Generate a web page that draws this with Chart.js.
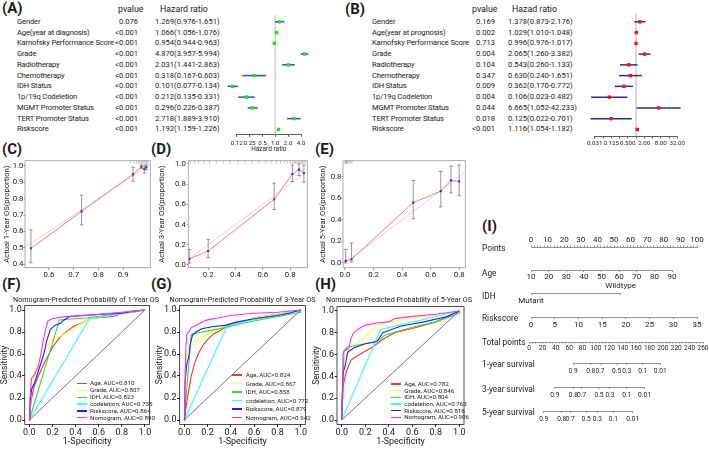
<!DOCTYPE html>
<html>
<head>
<meta charset="utf-8">
<title>Cox regression, calibration, ROC and nomogram</title>
<script src="https://cdn.jsdelivr.net/npm/chart.js@4.4.1/dist/chart.umd.min.js"></script>
<style>
  body { margin: 0; background: #fff; }
  #page { position: relative; width: 709px; height: 450px; overflow: hidden; background: #fff;
          font-family: Roboto, "Open Sans", sans-serif; color: #1a1a1a; }
  #page canvas { position: absolute; }
  .t { position: absolute; white-space: nowrap; line-height: 1; }
  .key { position: absolute; width: 10px; height: 1.3px; }
</style>
</head>
<body>
<div id="page"></div>
<script>
const FONT = 'Roboto, "Open Sans", sans-serif';

// ---- (A) univariate Cox
const uniVars = ['Gender', 'Age(year at diagnosis)', 'Karnofsky Performance Score', 'Grade', 'Radiotherapy', 'Chemotherapy',
  'IDH Status', '1p/19q Codeletion', 'MGMT Promoter Status', 'TERT Promoter Status', 'Riskscore'];
const uniP = ['0.076', '<0.001', '<0.001', '<0.001', '<0.001', '<0.001', '<0.001', '<0.001', '<0.001', '<0.001', '<0.001'];
const uniHR = [1.269, 1.066, 0.954, 4.870, 2.031, 0.318, 0.101, 0.212, 0.296, 2.718, 1.192];
const uniLow = [0.976, 1.056, 0.944, 3.957, 1.441, 0.167, 0.077, 0.135, 0.226, 1.889, 1.159];
const uniHigh = [1.651, 1.076, 0.963, 5.994, 2.863, 0.603, 0.134, 0.331, 0.387, 3.910, 1.226];

// ---- (B) multivariate Cox
const multiVars = ['Gender', 'Age(year at prognosis)', 'Karnofsky Performance Score', 'Grade', 'Radiotherapy', 'Chemotherapy',
  'IDH Status', '1p/19q Codeletion', 'MGMT Promoter Status', 'TERT Promoter Status', 'Riskscore'];
const multiP = ['0.169', '0.002', '0.713', '0.004', '0.104', '0.347', '0.009', '0.004', '0.044', '0.018', '<0.001'];
const multiHR = [1.378, 1.029, 0.996, 2.065, 0.543, 0.630, 0.362, 0.106, 6.665, 0.125, 1.116];
const multiLow = [0.873, 1.010, 0.976, 1.260, 0.260, 0.240, 0.170, 0.023, 1.052, 0.022, 1.054];
const multiHigh = [2.176, 1.048, 1.017, 3.382, 1.133, 1.651, 0.772, 0.482, 42.233, 0.701, 1.182];

const hrTicksA = [0.125, 0.25, 0.5, 1, 2, 4];
const hrLabelsA = ['0.12', '0.25', '0.5', '1.0', '2.0', '4.0'];
const hrTicksB = [0.03125, 0.0625, 0.125, 0.25, 0.5, 1, 2, 4, 8, 16, 32];
const hrLabelsB = ['0.031', '', '0.125', '', '0.500', '', '2.00', '', '8.00', '', '32.00'];

// ---- (C)(D)(E) calibration
const cal1Pred = [0.527, 0.732, 0.94, 0.974, 0.986, 0.994];
const cal1Obs = [0.498, 0.722, 0.947, 0.993, 0.978, 0.99];
const cal1Low = [0.41, 0.64, 0.905, 0.982, 0.955, 0.975];
const cal1High = [0.61, 0.82, 0.99, 1.005, 0.998, 1.005];
const cal1Rug = [0.93, 0.945, 0.955, 0.962, 0.968, 0.974, 0.98, 0.985, 0.99, 0.995, 1.0];
const cal1XTicks = [0.6, 0.7, 0.8, 0.9];
const cal1YTicks = [0.4, 0.5, 0.6, 0.7, 0.8, 0.9, 1.0];

const cal3Pred = [0.062, 0.2, 0.683, 0.816, 0.864, 0.9];
const cal3Obs = [0.06, 0.138, 0.65, 0.9, 0.944, 0.908];
const cal3Low = [0.017, 0.072, 0.55, 0.826, 0.885, 0.82];
const cal3High = [0.154, 0.253, 0.81, 0.99, 1.0, 0.99];
const cal3Rug = [0.07, 0.1, 0.13, 0.17, 0.21, 0.26, 0.31, 0.36, 0.42, 0.47, 0.52, 0.57, 0.62, 0.66, 0.7, 0.73,
  0.76, 0.78, 0.8, 0.82, 0.83, 0.84, 0.85, 0.86, 0.87, 0.88, 0.89, 0.9, 0.91];
const cal3XTicks = [0.2, 0.4, 0.6, 0.8];
const cal3YTicks = [0, 0.2, 0.4, 0.6, 0.8, 1.0];

const cal5Pred = [0.005, 0.046, 0.478, 0.671, 0.743, 0.8];
const cal5Obs = [0.018, 0.034, 0.56, 0.667, 0.767, 0.758];
const cal5Low = [0.0, 0.01, 0.41, 0.52, 0.65, 0.625];
const cal5High = [0.125, 0.185, 0.767, 0.85, 0.9, 0.91];
const cal5Rug = [0.0, 0.004, 0.008, 0.012, 0.016, 0.02, 0.03, 0.04, 0.05];
const cal5XTicks = [0, 0.2, 0.4, 0.6, 0.8];
const cal5YTicks = [0, 0.2, 0.4, 0.6, 0.8];

// ---- (F)(G)(H) ROC curves: Age, Grade, IDH, codeletion, Riskscore, Nomogram
const rocNames = ['Age', 'Grade', 'IDH', 'codeletion', 'Riskscore', 'Nomogram'];
const rocColors = ['#ff3030', '#ffff30', '#30e030', '#30ffff', '#2020ff', '#ff30ff'];
const auc1 = ['0.810', '0.807', '0.823', '0.735', '0.864', '0.890'];
const auc3 = ['0.824', '0.867', '0.858', '0.772', '0.879', '0.942'];
const auc5 = ['0.782', '0.846', '0.804', '0.763', '0.816', '0.906'];
const roc1 = [
  [[0,0],[0.01,0.12],[0.02,0.2],[0.04,0.3],[0.07,0.38],[0.1,0.45],[0.13,0.52],[0.16,0.58],[0.2,0.66],[0.24,0.72],[0.28,0.77],[0.33,0.81],[0.38,0.85],[0.45,0.88],[0.52,0.92],[0.6,0.93],[0.7,0.94],[0.76,0.95],[0.77,0.97],[0.9,0.98],[1,1]],
  [[0,0],[0.02,0.3],[0.06,0.5],[0.12,0.62],[0.18,0.72],[0.3,0.78],[0.42,0.86],[0.52,0.92],[0.75,0.96],[1,1]],
  [[0,0],[0.26,0.91],[0.5,0.93],[0.75,0.96],[1,1]],
  [[0,0],[0.52,0.92],[1,1]],
  [[0,0],[0.005,0.15],[0.02,0.28],[0.05,0.35],[0.08,0.45],[0.11,0.55],[0.13,0.62],[0.15,0.72],[0.18,0.82],[0.22,0.86],[0.27,0.88],[0.3,0.91],[0.35,0.94],[0.45,0.95],[0.6,0.96],[0.8,0.97],[0.9,0.99],[1,1]],
  [[0,0],[0.005,0.2],[0.02,0.38],[0.05,0.42],[0.08,0.5],[0.1,0.6],[0.12,0.72],[0.14,0.82],[0.16,0.9],[0.2,0.92],[0.3,0.94],[0.5,0.95],[0.7,0.97],[0.9,0.99],[1,1]]
];
const roc3 = [
  [[0,0],[0.02,0.15],[0.04,0.28],[0.06,0.4],[0.09,0.52],[0.12,0.6],[0.16,0.68],[0.2,0.73],[0.25,0.78],[0.3,0.81],[0.35,0.84],[0.4,0.87],[0.5,0.9],[0.6,0.93],[0.8,0.96],[1,1]],
  [[0,0],[0.02,0.62],[0.08,0.7],[0.2,0.78],[0.38,0.87],[0.6,0.93],[0.8,0.96],[1,1]],
  [[0,0],[0.06,0.78],[0.35,0.84],[0.5,0.88],[0.7,0.92],[1,0.98],[1,1]],
  [[0,0],[0.37,0.86],[1,1]],
  [[0,0],[0.005,0.3],[0.01,0.38],[0.02,0.5],[0.04,0.58],[0.05,0.68],[0.07,0.77],[0.1,0.8],[0.15,0.83],[0.25,0.85],[0.35,0.86],[0.45,0.89],[0.6,0.92],[0.8,0.95],[0.9,0.97],[1,1]],
  [[0,0],[0.005,0.3],[0.015,0.7],[0.02,0.78],[0.04,0.8],[0.06,0.84],[0.1,0.86],[0.15,0.89],[0.2,0.91],[0.3,0.93],[0.4,0.95],[0.6,0.97],[0.8,0.98],[1,1]]
];
const roc5 = [
  [[0,0],[0.005,0.2],[0.01,0.3],[0.02,0.35],[0.04,0.45],[0.08,0.55],[0.12,0.58],[0.18,0.62],[0.25,0.66],[0.3,0.7],[0.35,0.74],[0.45,0.8],[0.6,0.84],[0.8,0.9],[1,1]],
  [[0,0],[0.01,0.5],[0.05,0.6],[0.15,0.72],[0.32,0.88],[0.5,0.92],[0.7,0.95],[1,1]],
  [[0,0],[0.02,0.64],[0.05,0.67],[0.2,0.7],[0.3,0.72],[0.37,0.78],[0.6,0.85],[0.8,0.9],[1,0.98],[1,1]],
  [[0,0],[0.33,0.83],[1,1]],
  [[0,0],[0.01,0.42],[0.03,0.5],[0.05,0.62],[0.1,0.66],[0.2,0.7],[0.3,0.72],[0.35,0.8],[0.4,0.82],[0.5,0.86],[0.6,0.88],[0.7,0.9],[0.9,0.95],[1,1]],
  [[0,0],[0.005,0.25],[0.01,0.6],[0.02,0.63],[0.06,0.66],[0.08,0.75],[0.1,0.8],[0.15,0.84],[0.2,0.87],[0.3,0.89],[0.4,0.9],[0.45,0.93],[0.6,0.95],[0.8,0.97],[1,1]]
];
const rocTicks = [0, 0.2, 0.4, 0.6, 0.8, 1.0];

// ---- (I) nomogram
const pointsLabels = [0, 10, 20, 30, 40, 50, 60, 70, 80, 90, 100];
const ageLabels = [10, 20, 30, 40, 50, 60, 70, 80, 90];
const ageMaxPoints = 85;
const idhLevels = ['Mutant', 'Wildtype'];
const idhPoints = [0, 54];
const riskLabels = [0, 5, 10, 15, 20, 25, 30, 35];
const totalLabels = [0, 20, 40, 60, 80, 100, 120, 140, 160, 180, 200, 220, 240, 260];
const survLabels = ['0.9', '0.8', '0.7', '0.5', '0.3', '0.1', '0.01'];
const surv1Total = [66, 92.2, 106.1, 131.0, 146.0, 169.9, 196];
const surv3Total = [38.5, 66.2, 78.7, 104.6, 121.0, 146.0, 172.5];
const surv5Total = [22, 48.9, 61.3, 85.2, 102.1, 126.0, 155];

// ---------- setup ----------
Chart.defaults.font.family = FONT;
Chart.defaults.color = '#1a1a1a';
Chart.defaults.animation = false;
Chart.defaults.responsive = false;
Chart.defaults.events = [];
Chart.defaults.plugins.legend.display = false;
Chart.defaults.plugins.tooltip.enabled = false;

// frame around the plotting region (R style box)
Chart.register({
  id: 'box',
  afterDatasetsDraw(chart, args, opts) {
    if (!opts.color) return;
    const { ctx, chartArea: a } = chart;
    ctx.save();
    ctx.strokeStyle = opts.color;
    ctx.lineWidth = opts.width || 1;
    ctx.strokeRect(a.left, a.top, a.right - a.left, a.bottom - a.top);
    ctx.restore();
  }
});

const page = document.getElementById('page');

function canvasAt(l, t, w, h) {
  const c = document.createElement('canvas');
  c.width = w; c.height = h;
  c.style.left = l + 'px'; c.style.top = t + 'px';
  c.style.width = w + 'px'; c.style.height = h + 'px';
  page.appendChild(c);
  return c;
}

function text(x, y, s, size, opt = {}) {
  const d = document.createElement('div');
  d.className = 't';
  d.textContent = s;
  d.style.left = x + 'px';
  d.style.top = y + 'px';
  d.style.fontSize = size + 'px';
  if (opt.bold) d.style.fontWeight = 'bold';
  if (opt.spacing) d.style.letterSpacing = opt.spacing + 'px';
  const tx = opt.anchor === 'right' ? '-100%' : opt.anchor === 'center' ? '-50%' : '0';
  d.style.transform = `translate(${tx},-50%)`;
  page.appendChild(d);
  return d;
}

const fixTicks = vals => s => { s.ticks = vals.map(v => ({ value: v })); };
const fixSize = (prop, n) => s => {
  s[prop] = n;
  s.paddingLeft = 0; s.paddingRight = 0; s.paddingTop = 0; s.paddingBottom = 0;
};

// ---------- panel letters ----------
text(2, 8, '(A)', 15, { bold: true });
text(345, 9, '(B)', 15, { bold: true });
text(2, 149, '(C)', 15, { bold: true });
text(151, 149, '(D)', 15, { bold: true });
text(315, 149, '(E)', 15, { bold: true });
text(2, 284, '(F)', 15, { bold: true });
text(151, 284, '(G)', 15, { bold: true });
text(315, 284, '(H)', 15, { bold: true });
text(482, 226, '(I)', 15, { bold: true });

// ---------- forest tables ----------
const rowY = i => 21.8 + i * 10.76;
const fmtHR = (h, l, u) => `${h.toFixed(3)}(${l.toFixed(3)}-${u.toFixed(3)})`;

function coxTable(o) {
  text(o.pHead, 9, 'pvalue', 8.8);
  text(o.hrHead, 9, o.hrTitle, 8.8);
  o.vars.forEach((v, i) => {
    text(o.labelX, rowY(i), v, 7.6, { spacing: -0.15 });
    text(o.pRight, rowY(i), o.p[i], 7.6, { anchor: 'right' });
    text(o.hrX, rowY(i), fmtHR(o.hr[i], o.low[i], o.high[i]), 7.6);
  });
}

coxTable({ vars: uniVars, p: uniP, hr: uniHR, low: uniLow, high: uniHigh, labelX: 17, pRight: 138, hrX: 155,
  pHead: 118, hrHead: 160, hrTitle: 'Hazard ratio' });
coxTable({ vars: multiVars, p: multiP, hr: multiHR, low: multiLow, high: multiHigh, labelX: 372, pRight: 495, hrX: 508,
  pHead: 472, hrHead: 512, hrTitle: 'Hazad ratio' });

function forest(o) {
  const cv = canvasAt(o.left, o.top, o.w, o.h);
  const datasets = [
    { data: o.hr.map((x, i) => ({ x, y: i })), pointStyle: 'rect', pointRadius: 2.4,
      backgroundColor: o.dot, borderWidth: 0, clip: false },
    ...o.hr.map((_, i) => ({ data: [{ x: o.low[i], y: i }, { x: o.high[i], y: i }], showLine: true,
      borderColor: o.bar, borderWidth: 1.5, pointRadius: 0, clip: false })),
    { data: [{ x: 1, y: o.refTop }, { x: 1, y: o.yMax }], showLine: true, borderColor: '#d4d4d4',
      borderWidth: 1, pointRadius: 0, clip: false }
  ];
  new Chart(cv, {
    type: 'scatter',
    data: { datasets },
    options: {
      layout: { padding: o.pad },
      scales: {
        x: {
          type: 'logarithmic', min: o.ticks[0], max: o.ticks[o.ticks.length - 1],
          afterBuildTicks: fixTicks(o.ticks), afterFit: fixSize('height', o.xh),
          ticks: { autoSkip: false, maxRotation: 0, padding: o.tpad, font: { size: 6.2 }, color: '#222',
            callback: (v, i) => o.labels[i] },
          grid: { drawOnChartArea: false, tickLength: 2.5, color: '#333', lineWidth: 0.8 },
          border: { color: '#333', width: 0.8 },
          title: { display: !!o.title, text: o.title || '', font: { size: 6.5 }, padding: { top: 0, bottom: 4 } }
        },
        y: { display: false, reverse: true, min: -0.446, max: o.yMax }
      }
    }
  });
}

forest({ left: 215, top: 10, w: 100, h: 147, pad: { left: 21.7, right: 14, top: 7, bottom: 0 }, xh: 22.7, tpad: 2.9,
  hr: uniHR, low: uniLow, high: uniHigh, ticks: hrTicksA, labels: hrLabelsA, dot: '#22e022', bar: '#3a48c8',
  refTop: -0.63, yMax: 10.455, title: 'Hazard ratio' });
forest({ left: 570, top: 10, w: 130, h: 147, pad: { left: 24.75, right: 22.75, top: 7, bottom: 0 }, xh: 21, tpad: 1,
  hr: multiHR, low: multiLow, high: multiHigh, ticks: hrTicksB, labels: hrLabelsB, dot: '#ff1010', bar: '#2c2c96',
  refTop: -0.82, yMax: 10.61 });

// ---------- calibration ----------
function calib(o) {
  const cv = canvasAt(o.left, o.top, o.w, o.h);
  const pts = o.pred.map((x, i) => ({ x, y: o.obs[i] }));
  const datasets = [
    { data: pts, pointStyle: 'rect', pointRadius: 1.5, backgroundColor: '#5b2d8e', borderWidth: 0 },
    { data: pts, showLine: true, borderColor: '#ff7b7b', borderWidth: 1, pointRadius: 0 },
    ...o.pred.map((x, i) => ({ data: [{ x, y: o.low[i] }, { x, y: o.high[i] }], showLine: true,
      borderColor: '#6b6b6b', borderWidth: 0.7, pointStyle: 'line', pointRadius: 1.8,
      pointBorderColor: '#6b6b6b', pointBorderWidth: 0.7, clip: false })),
    { data: [{ x: o.xMin, y: o.xMin }, { x: o.xMax, y: o.xMax }], showLine: true, borderColor: '#d8d8d8',
      borderWidth: 1, pointRadius: 0 },
    { data: o.rug.map(x => ({ x, y: o.yMax })), pointStyle: 'line', pointRotation: 90, pointRadius: 3,
      pointBorderColor: '#9a9a9a', pointBorderWidth: 0.6 }
  ];
  new Chart(cv, {
    type: 'scatter',
    data: { datasets },
    options: {
      layout: { padding: { left: 0, bottom: 0, top: o.padTop, right: o.padRight } },
      plugins: { box: { color: '#9a9a9a', width: 0.8 } },
      scales: {
        x: {
          type: 'linear', min: o.xMin, max: o.xMax,
          afterBuildTicks: fixTicks(o.xTicks), afterFit: fixSize('height', o.xh),
          ticks: { autoSkip: false, maxRotation: 0, padding: 1, font: { size: 7.8 }, callback: v => v.toFixed(1) },
          grid: { drawOnChartArea: false, tickLength: 2, color: '#888' },
          border: { display: false }
        },
        y: {
          type: 'linear', min: o.yMin, max: o.yMax,
          afterBuildTicks: fixTicks(o.yTicks), afterFit: fixSize('width', o.yw),
          ticks: { autoSkip: false, padding: o.ypad, font: { size: 7.8 }, callback: v => v.toFixed(1) },
          grid: { drawOnChartArea: false, tickLength: 1.5, color: '#888' },
          border: { display: false },
          title: { display: true, text: o.title, font: { size: 7.6 }, padding: { top: 2.2, bottom: 0 } }
        }
      }
    }
  });
}

calib({ left: 0, top: 156, w: 155, h: 130, yw: 25, xh: 18.3, padTop: 2.3, padRight: 3.3, ypad: 0,
  pred: cal1Pred, obs: cal1Obs, low: cal1Low, high: cal1High, rug: cal1Rug,
  xMin: 0.503, xMax: 1.01, yMin: 0.38, yMax: 1.03, xTicks: cal1XTicks, yTicks: cal1YTicks,
  title: 'Actual 1-Year OS(proportion)' });
calib({ left: 155, top: 156, w: 157, h: 130, yw: 33.3, xh: 18.3, padTop: 4, padRight: 3.7, ypad: 1,
  pred: cal3Pred, obs: cal3Obs, low: cal3Low, high: cal3High, rug: cal3Rug,
  xMin: 0.055, xMax: 0.925, yMin: -0.027, yMax: 1.032, xTicks: cal3XTicks, yTicks: cal3YTicks,
  title: 'Actual 3-Year OS(proportion)' });
calib({ left: 316, top: 156, w: 154, h: 130, yw: 27, xh: 18.3, padTop: 2.3, padRight: 2.7, ypad: 0,
  pred: cal5Pred, obs: cal5Obs, low: cal5Low, high: cal5High, rug: cal5Rug,
  xMin: -0.014, xMax: 0.843, yMin: -0.045, yMax: 0.95, xTicks: cal5XTicks, yTicks: cal5YTicks,
  title: 'Actual 5-Year OS(proportion)' });

// ---------- ROC ----------
function roc(o) {
  const cv = canvasAt(o.left, o.top, o.w, o.h);
  const datasets = o.curves.map((c, i) => ({
    data: c.map(([x, y]) => ({ x, y })), showLine: true, borderColor: rocColors[i], borderWidth: 1.1,
    pointRadius: 0, order: rocColors.length - i
  }));
  datasets.push({ data: [{ x: 0, y: 0 }, { x: 1, y: 1 }], showLine: true, borderColor: '#555',
    borderWidth: 0.8, pointRadius: 0, order: 20 });
  new Chart(cv, {
    type: 'scatter',
    data: { datasets },
    options: {
      layout: { padding: { left: 0, bottom: 0, top: o.padTop, right: o.padRight } },
      plugins: { box: { color: '#222', width: 0.8 } },
      scales: {
        x: {
          type: 'linear', min: -0.04, max: 1.04,
          afterBuildTicks: fixTicks(rocTicks), afterFit: fixSize('height', 25.6),
          ticks: { autoSkip: false, maxRotation: 0, padding: 0, font: { size: 9 }, callback: v => v.toFixed(1) },
          grid: { drawOnChartArea: false, tickLength: 2.5, color: '#222' },
          border: { display: false },
          title: { display: true, text: '1-Specificity', font: { size: 9 }, padding: { top: 0, bottom: 2.9 } }
        },
        y: {
          type: 'linear', min: -0.04, max: 1.04,
          afterBuildTicks: fixTicks(rocTicks), afterFit: fixSize('width', o.yw),
          ticks: { autoSkip: false, padding: 0.5, font: { size: 9 }, callback: v => v.toFixed(1) },
          grid: { drawOnChartArea: false, tickLength: 2.5, color: '#222' },
          border: { display: false },
          title: { display: true, text: 'Sensitivity', font: { size: 8.5 }, padding: { top: 0, bottom: 0 } }
        }
      }
    }
  });
  text(o.titleX, 300, o.title, 7.2, { anchor: 'center' });
  // legend keys
  rocNames.forEach((n, i) => {
    const y = o.legY + i * o.legStep;
    const key = document.createElement('div');
    key.className = 'key';
    key.style.left = o.legX + 'px';
    key.style.top = (y - 0.6) + 'px';
    key.style.background = rocColors[i];
    page.appendChild(key);
    text(o.legX + 13.5, y, `${n}, AUC=${o.auc[i]}`, 6.2);
  });
}

roc({ left: 0, top: 303, w: 152, h: 147, yw: 24.7, padTop: 2.6, padRight: 2.4, curves: roc1, auc: auc1,
  title: 'Nomogram-Predicted Probability of 1-Year OS', titleX: 86, legX: 76.5, legY: 383.3, legStep: 6.9 });
roc({ left: 155, top: 303, w: 152, h: 147, yw: 24.6, padTop: 2.6, padRight: 1.6, curves: roc3, auc: auc3,
  title: 'Nomogram-Predicted Probability of 3-Year OS', titleX: 242.5, legX: 232.3, legY: 375, legStep: 8.5 });
roc({ left: 312, top: 303, w: 154, h: 147, yw: 25, padTop: 3.6, padRight: 2, curves: roc5, auc: auc5,
  title: 'Nomogram-Predicted Probability of 5-Year OS', titleX: 399, legX: 390.7, legY: 384, legStep: 6.67 });

// ---------- nomogram ----------
const ptsX0 = 531, ptsX1 = 697;            // 0..100 points
const totX0 = 529, totX1 = 703;            // 0..260 total points
const ptsPx = p => ptsX0 + p * (ptsX1 - ptsX0) / 100;
const totPx = t => totX0 + t * (totX1 - totX0) / 260;
const minorSteps = (max, step) => Array.from({ length: Math.round(max / step) + 1 }, (_, i) => i * step);

function nomoAxis(o) {
  const padX = 14;
  const left = Math.floor(o.x0) - padX;
  const w = Math.ceil(o.x1 - o.x0) + 2 * padX;
  const top = o.pos === 'top' ? o.lineY - o.h : o.lineY - 1;
  const cv = canvasAt(left, top, w, o.h + 1);
  new Chart(cv, {
    type: 'scatter',
    data: { datasets: [] },
    options: {
      layout: { padding: { left: o.x0 - left, right: left + w - o.x1, top: 0, bottom: 0 } },
      scales: {
        x: {
          type: 'linear', position: o.pos, min: o.min, max: o.max,
          afterBuildTicks: fixTicks(o.ticks), afterFit: fixSize('height', o.h),
          ticks: { autoSkip: false, maxRotation: 0, minRotation: 0, padding: o.pad, font: { size: o.size },
            color: '#222', callback: (v, i) => o.labels[i] },
          grid: { drawOnChartArea: false, tickLength: o.tl, color: '#777', lineWidth: 0.8 },
          border: { color: '#777', width: 0.8 }
        },
        y: { display: false, min: 0, max: 1 }
      }
    }
  });
}

const rowLabels = [['Points', 248], ['Age', 272.7], ['IDH', 295.7], ['Riskscore', 318], ['Total points', 341.7],
  ['1-year survival', 364], ['3-year survival', 389], ['5-year survival', 412.3]];
rowLabels.forEach(([s, y]) => text(482, y, s, 8.3));

const pointsMinor = minorSteps(100, 2);
nomoAxis({ x0: ptsX0, x1: ptsX1, lineY: 247, min: 0, max: 100, pos: 'top', h: 13, tl: 1.5, pad: 0.7, size: 8,
  ticks: pointsMinor, labels: pointsMinor.map(v => pointsLabels.includes(v) ? String(v) : '') });

nomoAxis({ x0: ptsX0, x1: ptsPx(ageMaxPoints), lineY: 270, min: ageLabels[0], max: ageLabels[ageLabels.length - 1],
  pos: 'bottom', h: 13, tl: 2, pad: 0.2, size: 8, ticks: ageLabels, labels: ageLabels.map(String) });

// IDH: levels alternate below / above the line
(function () {
  const x0 = ptsPx(idhPoints[0]), x1 = ptsPx(idhPoints[1]);
  const padX = 20, hTop = 11, hBot = 11, lineY = 293.3;
  const left = Math.floor(x0) - padX;
  const w = Math.ceil(x1 - x0) + 2 * padX;
  const cv = canvasAt(left, lineY - hTop - 1, w, hTop + hBot + 1);
  const common = {
    type: 'linear', min: idhPoints[0], max: idhPoints[1], afterBuildTicks: fixTicks(idhPoints),
    ticks: { autoSkip: false, maxRotation: 0, font: { size: 8 }, color: '#222' }
  };
  new Chart(cv, {
    type: 'scatter',
    data: { datasets: [] },
    options: {
      layout: { padding: { left: x0 - left, right: left + w - x1, top: 0, bottom: 0 } },
      scales: {
        x: { ...common, position: 'bottom', afterFit: fixSize('height', hBot),
          ticks: { ...common.ticks, padding: 0.9, callback: (v, i) => i === 0 ? idhLevels[0] : '' },
          grid: { drawOnChartArea: false, tickLength: 2, color: '#777', lineWidth: 0.8 },
          border: { color: '#777', width: 0.8 } },
        x2: { ...common, position: 'top', afterFit: fixSize('height', hTop),
          ticks: { ...common.ticks, padding: 0.8, callback: (v, i) => i === 1 ? idhLevels[1] : '' },
          grid: { drawOnChartArea: false, drawTicks: false, color: 'rgba(0,0,0,0)' },
          border: { display: false } },
        y: { display: false, min: 0, max: 1 }
      }
    }
  });
})();

nomoAxis({ x0: ptsX0, x1: ptsX1, lineY: 316.7, min: 0, max: 35, pos: 'bottom', h: 14, tl: 2, pad: 1.5, size: 8,
  ticks: riskLabels, labels: riskLabels.map(String) });

const totalMinor = minorSteps(260, 5);
nomoAxis({ x0: totX0, x1: totX1, lineY: 341.7, min: 0, max: 260, pos: 'bottom', h: 12, tl: 1.5, pad: 0.6, size: 6.6,
  ticks: totalMinor, labels: totalMinor.map(v => totalLabels.includes(v) ? String(v) : '') });

[[surv1Total, 363.3, 2.5], [surv3Total, 387.3, 2.5], [surv5Total, 411, 2.1]].forEach(([tp, y, pad]) => {
  nomoAxis({ x0: totPx(tp[0]), x1: totPx(tp[tp.length - 1]), lineY: y, min: tp[0], max: tp[tp.length - 1],
    pos: 'bottom', h: 13, tl: 2, pad, size: 6.6, ticks: tp, labels: survLabels });
});
</script>
</body>
</html>
